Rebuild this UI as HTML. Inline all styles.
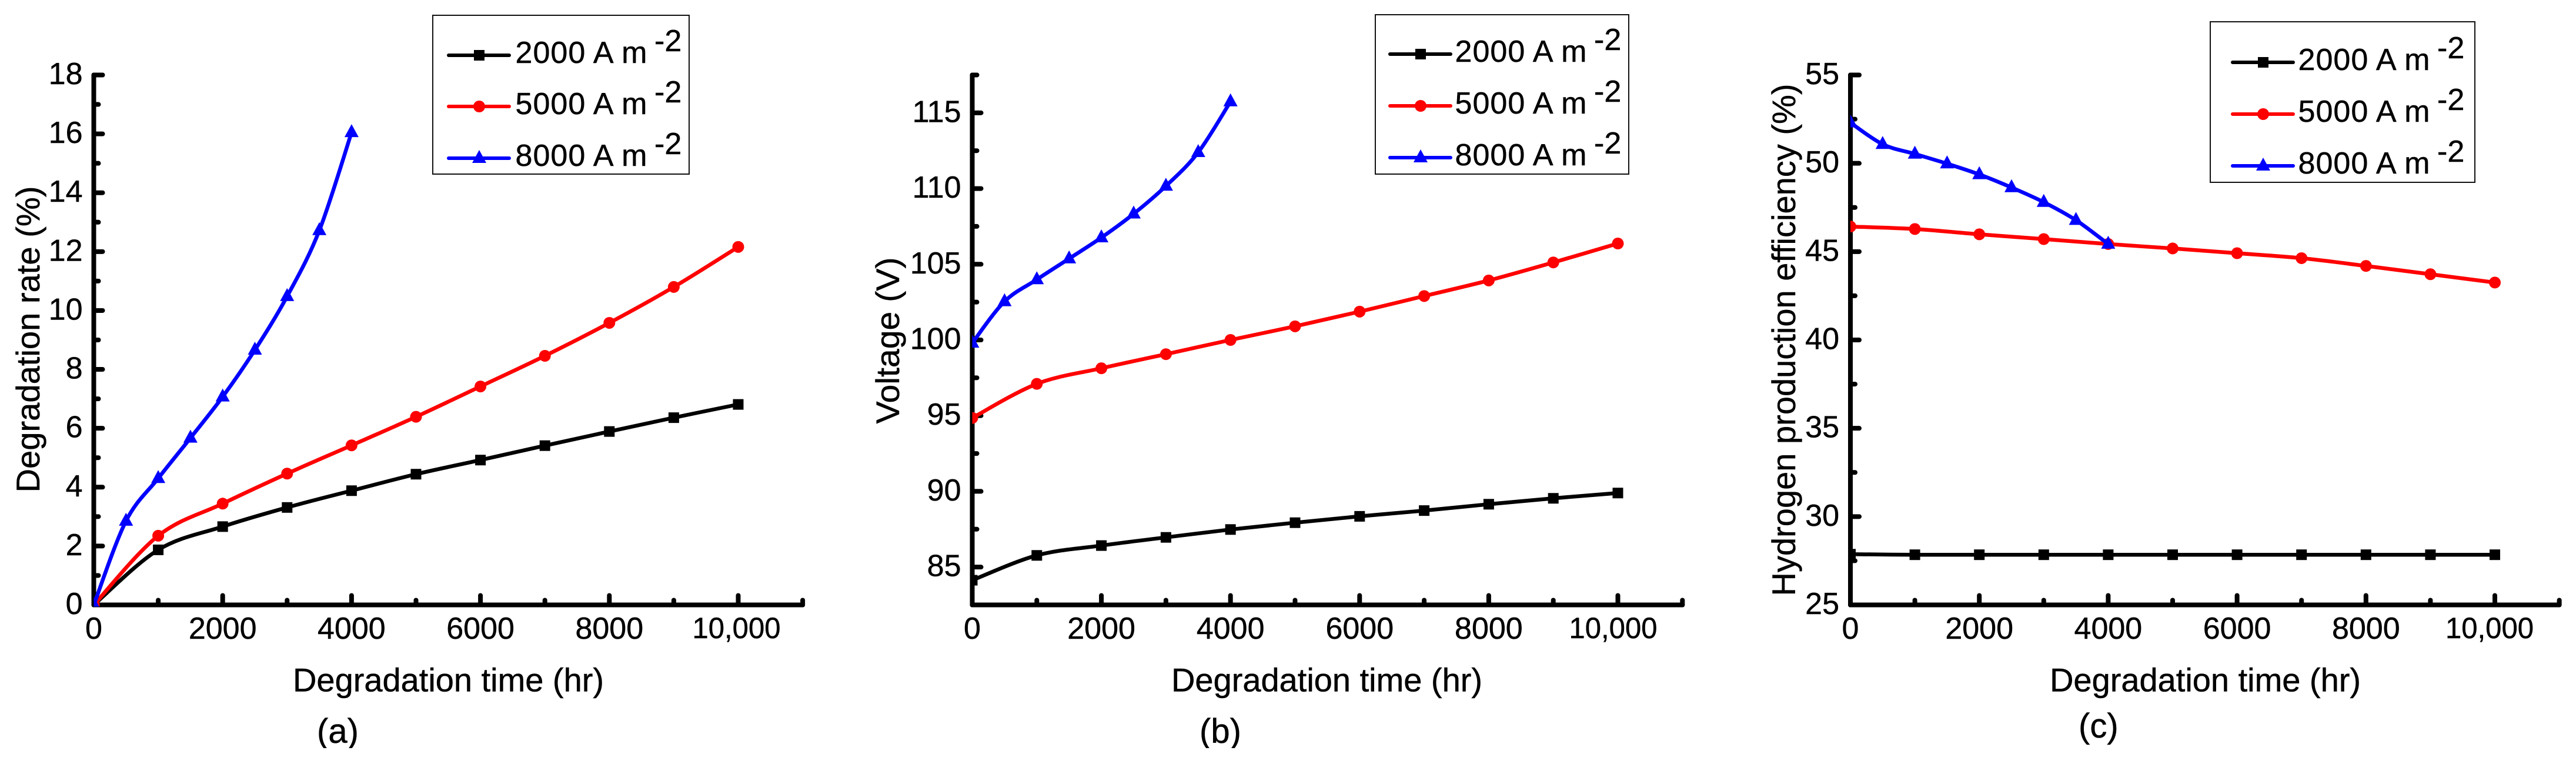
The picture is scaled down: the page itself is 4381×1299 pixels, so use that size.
<!DOCTYPE html>
<html>
<head>
<meta charset="utf-8">
<title>Degradation charts</title>
<style>
html,body{margin:0;padding:0;background:#fff;}
svg{display:block;}
text{font-family:"Liberation Sans",sans-serif;fill:#000;stroke:#000;stroke-width:0.5px;}
</style>
</head>
<body>
<svg id="figure" xmlns="http://www.w3.org/2000/svg" width="4381" height="1299" viewBox="0 0 4381 1299"></svg>
<script>
const timeCoarse = [0,1000,2000,3000,4000,5000,6000,7000,8000,9000,10000];
const timeFine = [0,500,1000,1500,2000,2500,3000,3500,4000];

const rate2000 = [0,1.87,2.66,3.31,3.88,4.44,4.92,5.41,5.89,6.36,6.81];
const rate5000 = [0,2.35,3.44,4.46,5.42,6.39,7.42,8.46,9.58,10.8,12.16];
const rate8000 = [0,2.85,4.3,5.67,7.07,8.66,10.48,12.72,16.05];

const volt2000 = [84.13,85.77,86.42,86.96,87.48,87.93,88.35,88.73,89.15,89.54,89.89];
const volt5000 = [94.85,97.1,98.13,99.06,100,100.9,101.87,102.9,103.93,105.12,106.37];
const volt8000 = [99.8,102.54,103.99,105.37,106.76,108.33,110.17,112.39,115.74];

const eff2000 = [27.87,27.84,27.84,27.84,27.84,27.84,27.84,27.84,27.84,27.84,27.84];
const eff5000 = [46.42,46.28,45.98,45.71,45.43,45.18,44.91,44.63,44.19,43.72,43.25];
const eff8000 = [52.3,51.08,50.53,49.98,49.37,48.63,47.8,46.78,45.43];

const xMajorTicks = [0,2000,4000,6000,8000,10000];
const xMinorTicks = [1000,3000,5000,7000,9000,11000];
const xTickLabels = ["0","2000","4000","6000","8000","10,000"];

const rateMajorTicks = [0,2,4,6,8,10,12,14,16,18];
const rateMinorTicks = [1,3,5,7,9,11,13,15,17];
const voltMajorTicks = [85,90,95,100,105,110,115];
const voltMinorTicks = [82.5,87.5,92.5,97.5,102.5,107.5,112.5,117.5];
const effMajorTicks = [25,30,35,40,45,50,55];
const effMinorTicks = [27.5,32.5,37.5,42.5,47.5,52.5];

const seriesNames = ["2000 A m","5000 A m","8000 A m"];

const NS = "http://www.w3.org/2000/svg";
const figure = document.getElementById("figure");

function mk(tag, parent, attrs, txt) {
  const el = document.createElementNS(NS, tag);
  for (const k in attrs) el.setAttribute(k, attrs[k]);
  if (txt !== undefined) el.textContent = txt;
  parent.appendChild(el);
  return el;
}

function smoothPath(xs, ys) {
  let d = "M" + xs[0] + " " + ys[0];
  const n = xs.length;
  for (let i = 0; i < n - 1; i++) {
    const i0 = Math.max(i - 1, 0), i3 = Math.min(i + 2, n - 1);
    const c1x = xs[i] + (xs[i + 1] - xs[i0]) / 6;
    const c1y = ys[i] + (ys[i + 1] - ys[i0]) / 6;
    const c2x = xs[i + 1] - (xs[i3] - xs[i]) / 6;
    const c2y = ys[i + 1] - (ys[i3] - ys[i]) / 6;
    d += "C" + c1x + " " + c1y + " " + c2x + " " + c2y + " " + xs[i + 1] + " " + ys[i + 1];
  }
  return d;
}

function drawMarker(parent, kind, cx, cy, color) {
  let m;
  if (kind === "square") {
    m = mk("rect", parent, {x: cx - 9, y: cy - 9, width: 18, height: 18, fill: color});
  } else if (kind === "circle") {
    m = mk("circle", parent, {cx: cx, cy: cy, r: 10, fill: color});
  } else {
    m = mk("polygon", parent, {points: (cx - 12) + "," + (cy + 8) + " " + (cx + 12) + "," + (cy + 8) + " " + cx + "," + (cy - 14), fill: color});
  }
  
  
}

function drawPanel(cfg) {
  const g = mk("g", figure, {});
  
  

  const X = v => cfg.x0 + v * cfg.xScale;
  const Y = v => cfg.yBottom - (v - cfg.yMin) * (cfg.yBottom - cfg.yTop) / (cfg.yMax - cfg.yMin);
  const xEnd = X(11000);

  // axes
  const axes = mk("g", g, {stroke: "#000", "stroke-linecap": "round", fill: "none"});
  
  
  const yAxis = mk("line", axes, {x1: cfg.x0, y1: cfg.yTop, x2: cfg.x0, y2: cfg.yBottom, "stroke-width": 8});
  
  
  const xAxis = mk("line", axes, {x1: cfg.x0, y1: cfg.yBottom, x2: xEnd, y2: cfg.yBottom, "stroke-width": 8});
  
  

  xMajorTicks.forEach((v, i) => {
    const t = mk("line", axes, {x1: X(v), y1: cfg.yBottom, x2: X(v), y2: cfg.yBottom - 16, "stroke-width": 8});
    
    
    const long = xTickLabels[i].length > 4;
    const attrs = long
      ? {x: X(v) + cfg.longDx, y: 1085, "font-size": 50, "text-anchor": "middle", textLength: 150, lengthAdjust: "spacingAndGlyphs"}
      : {x: X(v), y: 1086, "font-size": 52, "text-anchor": "middle"};
    const l = mk("text", g, attrs, xTickLabels[i]);
    
    
  });
  xMinorTicks.forEach(v => {
    const t = mk("line", axes, {x1: X(v), y1: cfg.yBottom, x2: X(v), y2: cfg.yBottom - 8, "stroke-width": 8});
    
    
  });
  cfg.yMajor.forEach(v => {
    const t = mk("line", axes, {x1: cfg.x0, y1: Y(v), x2: cfg.x0 + 15, y2: Y(v), "stroke-width": 8});
    
    
    const l = mk("text", g, {x: cfg.x0 - 19, y: Y(v) + 15.5, "font-size": 52, "text-anchor": "end"}, String(v));
    
    
  });
  cfg.yMinor.forEach(v => {
    const t = mk("line", axes, {x1: cfg.x0, y1: Y(v), x2: cfg.x0 + 8, y2: Y(v), "stroke-width": 8});
    
    
  });

  // titles
  const xt = mk("text", g, {x: cfg.xTitleX - 3, y: 1175.5, "font-size": 56, textLength: 529, lengthAdjust: "spacingAndGlyphs"}, "Degradation time (hr)");
  
  
  const yt = mk("text", g, {
    x: 0, y: 0, "font-size": 56, "text-anchor": "middle",
    textLength: cfg.yTitleLen + 4, lengthAdjust: "spacingAndGlyphs",
    transform: "translate(" + cfg.yTitleX + " " + cfg.yTitleY + ") rotate(-90)"
  }, cfg.yTitle);
  
  
  const cap = mk("text", g, {x: cfg.capX, y: cfg.capY, "font-size": 58}, cfg.caption);
  
  
  if (cfg.capCut) {
    const cut = mk("rect", g, {x: cfg.capX - 5, y: cfg.capCut, width: 90, height: 20, fill: "#fff"});
    
    
  }

  // series
  const clipId = "clip-" + cfg.id;
  const defs = mk("defs", g, {});
  const cp = mk("clipPath", defs, {id: clipId});
  mk("rect", cp, {x: cfg.x0, y: 0, width: xEnd - cfg.x0 + 30, height: cfg.yBottom + 3});
  const plot = mk("g", g, {"clip-path": "url(#" + clipId + ")"});
  
  

  const styles = [
    {color: "#000", kind: "square", time: timeCoarse, name: "series-2000"},
    {color: "#f00", kind: "circle", time: timeCoarse, name: "series-5000"},
    {color: "#00f", kind: "triangle", time: timeFine, name: "series-8000"}
  ];
  styles.forEach((s, i) => {
    const vals = cfg.series[i];
    const sg = mk("g", plot, {});
    
    
    const xs = s.time.map(X), ys = vals.map(Y);
    const p = mk("path", sg, {d: smoothPath(xs, ys), fill: "none", stroke: s.color, "stroke-width": 6.5, "stroke-linejoin": "round"});
    
    
    xs.forEach((x, j) => {
      drawMarker(sg, s.kind, x, ys[j], s.color);
    });
  });

  // legend
  const lg = mk("g", g, {});
  
  
  const box = mk("rect", lg, {x: cfg.lx, y: cfg.ly, width: cfg.lw, height: cfg.lh, fill: "#fff", stroke: "#111", "stroke-width": 2});
  
  
  styles.forEach((s, i) => {
    const y = cfg.lineY[i];
    const e = mk("g", lg, {});
    
    
    const sw = mk("line", e, {x1: cfg.lineX, y1: y, x2: cfg.lineX + 103, y2: y, stroke: s.color, "stroke-width": 6, "stroke-linecap": "round"});
    
    
    drawMarker(e, s.kind, cfg.lineX + 52, y, s.color);
    const t = mk("text", e, {x: cfg.textX, y: y + 13, "font-size": 52, textLength: 224, lengthAdjust: "spacing"}, seriesNames[i]);
    
    
    const sup = mk("text", e, {x: cfg.supX, y: y - 7, "font-size": 52}, "-2");
    
    
  });
}

drawPanel({
  id: "a", x0: 159.5, xScale: 0.1096, longDx: -3, yTop: 127.5, yBottom: 1028.5, yMin: 0, yMax: 18,
  yMajor: rateMajorTicks, yMinor: rateMinorTicks, series: [rate2000, rate5000, rate8000],
  xTitleX: 501, yTitle: "Degradation rate (%)", yTitleX: 67, yTitleY: 577, yTitleLen: 517,
  caption: "(a)", capX: 539, capY: 1263, capCut: 1272,
  lx: 736, ly: 26, lw: 436, lh: 270, lineX: 763, lineY: [94, 181, 269], textX: 876.5, supX: 1113
});
drawPanel({
  id: "b", x0: 1653.5, xScale: 0.1098, longDx: -8, yTop: 127.5, yBottom: 1028.5, yMin: 82.5, yMax: 117.5,
  yMajor: voltMajorTicks, yMinor: voltMinorTicks, series: [volt2000, volt5000, volt8000],
  xTitleX: 1995, yTitle: "Voltage (V)", yTitleX: 1529, yTitleY: 579, yTitleLen: 279,
  caption: "(b)", capX: 2040, capY: 1263, capCut: 1272,
  lx: 2339, ly: 25, lw: 431, lh: 271, lineX: 2364, lineY: [92, 180, 268], textX: 2474.5, supX: 2711
});
drawPanel({
  id: "c", x0: 3147, xScale: 0.1096, longDx: -9, yTop: 127.5, yBottom: 1028.5, yMin: 25, yMax: 55,
  yMajor: effMajorTicks, yMinor: effMinorTicks, series: [eff2000, eff5000, eff8000],
  xTitleX: 3489, yTitle: "Hydrogen production efficiency (%)", yTitleX: 3053, yTitleY: 578, yTitleLen: 867,
  caption: "(c)", capX: 3535, capY: 1254, capCut: 0,
  lx: 3759, ly: 37, lw: 450, lh: 273, lineX: 3797, lineY: [106, 194, 282], textX: 3908.5, supX: 4145
});
</script>
</body>
</html>
